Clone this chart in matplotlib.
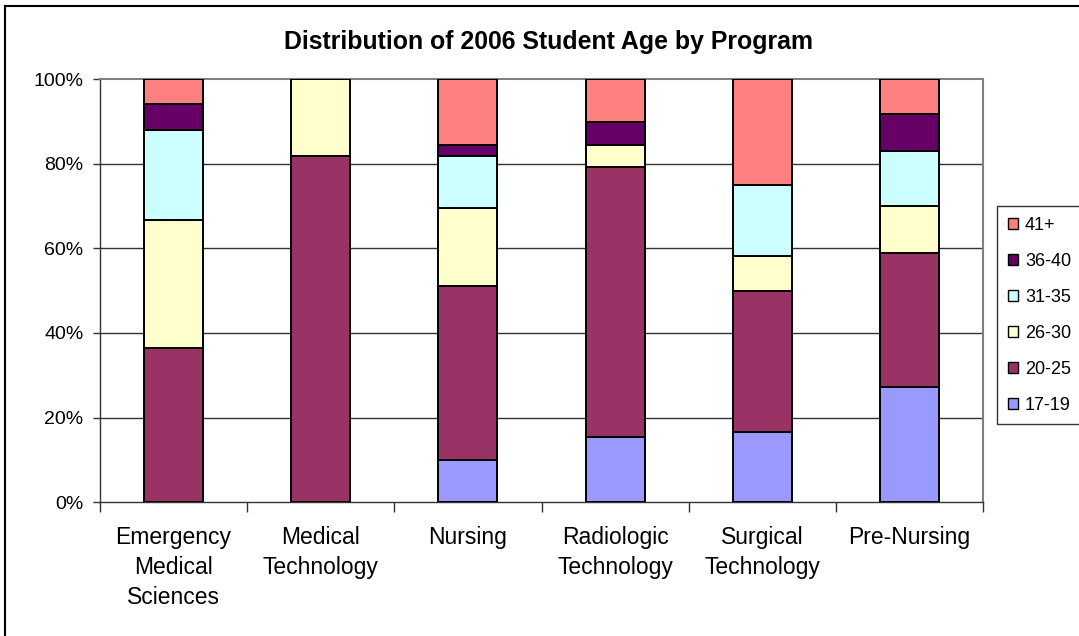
import matplotlib
matplotlib.use("Agg")
import matplotlib.pyplot as plt
from matplotlib.lines import Line2D
import numpy as np

programs = ["Emergency\nMedical\nSciences", "Medical\nTechnology", "Nursing",
            "Radiologic\nTechnology", "Surgical\nTechnology", "Pre-Nursing"]
age_groups = ["17-19", "20-25", "26-30", "31-35", "36-40", "41+"]
s17_19 = [0.0, 0.0, 10.0, 15.5, 16.7, 27.3]
s20_25 = [36.4, 81.8, 41.2, 63.6, 33.3, 31.6]
s26_30 = [30.3, 18.2, 18.4, 5.3, 8.3, 11.1]
s31_35 = [21.2, 0.0, 12.2, 0.0, 16.7, 13.1]
s36_40 = [6.1, 0.0, 2.7, 5.5, 0.0, 8.7]
s41p = [6.0, 0.0, 15.5, 10.1, 25.0, 8.2]
series = [s17_19, s20_25, s26_30, s31_35, s36_40, s41p]
colors = ["#9999FF", "#993366", "#FFFFCC", "#CCFFFF", "#660066", "#FF8080"]
yticks = [0, 20, 40, 60, 80, 100]
ytick_labels = ["0%", "20%", "40%", "60%", "80%", "100%"]

plt.rcParams['font.family'] = ['Liberation Sans', 'DejaVu Sans']

W, H = 1079, 636
fig = plt.figure(figsize=(W / 100, H / 100), dpi=100)
ax = fig.add_axes([100 / W, 1 - 502.3 / H, (983 - 100) / W, (502.3 - 79) / H])

x = np.arange(len(programs))
totals = np.zeros(len(programs))
handles = []
for name, vals, c in zip(age_groups, series, colors):
    v = np.array(vals, dtype=float)
    mask = v > 0
    ax.bar(x[mask], v[mask], width=0.4, bottom=totals[mask], color=c,
           edgecolor="black", linewidth=1.4, zorder=3)
    totals += v
    handles.append(plt.Rectangle((0, 0), 1, 1, facecolor=c, edgecolor="black", linewidth=1.0))

ax.set_xlim(-0.5, len(programs) - 0.5)
ax.set_ylim(0, 100)
ax.set_yticks(yticks)
ax.set_yticklabels(ytick_labels, fontsize=14)
ax.set_xticks(x)
ax.set_xticklabels(programs, fontsize=16.5, linespacing=1.4)
ax.set_xticks(np.arange(len(programs) + 1) - 0.5, minor=True)
ax.tick_params(axis="x", which="major", length=0, pad=17)
ax.tick_params(axis="x", which="minor", length=7, direction="out", width=1, color="#333333")
ax.tick_params(axis="y", length=5, width=1, direction="out", pad=7, color="#333333")

for yv in yticks[1:-1]:
    ax.axhline(yv, color="#333333", linewidth=1.0, zorder=1)
ax.spines["top"].set_color("#808080")
ax.spines["right"].set_color("#808080")
ax.spines["top"].set_linewidth(1.5)
ax.spines["right"].set_linewidth(1.5)
ax.spines["left"].set_color("#333333")
ax.spines["bottom"].set_color("#333333")
ax.spines["left"].set_linewidth(1.0)
ax.spines["bottom"].set_linewidth(1.0)

fig.text(548 / W, 1 - 42 / H, "Distribution of 2006 Student Age by Program",
         ha="center", va="center", fontsize=17.9, fontweight="bold")

leg = fig.legend(handles[::-1], age_groups[::-1], loc="upper left",
                 bbox_to_anchor=(997 / W, 1 - 206 / H), fontsize=13,
                 frameon=True, fancybox=False, edgecolor="black",
                 handlelength=0.55, handleheight=0.55, handletextpad=0.4,
                 labelspacing=1.05, borderpad=0.6, borderaxespad=0)
leg.get_frame().set_linewidth(1.0)

fig.add_artist(Line2D([5 / W, 5 / W], [0, 1 - 6 / H], color="black", linewidth=1.5, transform=fig.transFigure))
fig.add_artist(Line2D([5 / W, 1], [1 - 6 / H, 1 - 6 / H], color="black", linewidth=1.5, transform=fig.transFigure))

fig.savefig("out.png", dpi=100)
